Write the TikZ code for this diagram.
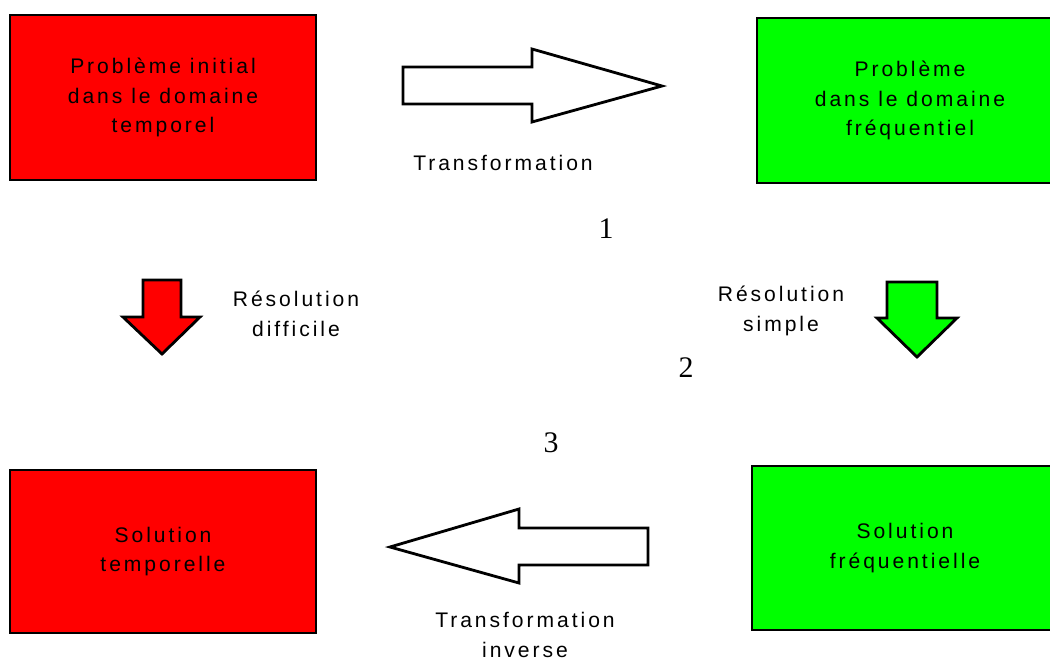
\documentclass[tikz,border=0pt]{standalone}
\usepackage{fontspec}
\setmainfont{Liberation Sans}
\newfontfamily\spacedfont[LetterSpace=14]{Liberation Sans}
\newfontfamily\numfont{Liberation Serif}
\definecolor{tempred}{RGB}{255,0,0}
\definecolor{freqgreen}{RGB}{0,255,0}

\begin{document}
\begin{tikzpicture}[
    x=0.2mm, y=-0.2mm,
    box/.style={
      rectangle, draw=black, line width=1.6pt,
      minimum width=61.2mm, minimum height=33mm,
      font=\spacedfont\fontsize{12}{17}\selectfont, align=center
    },
    tempbox/.style={box, fill=tempred},
    freqbox/.style={box, fill=freqgreen},
    bigarr/.style={draw=black, line width=1.6pt, line join=miter},
    lbl/.style={font=\spacedfont\fontsize{12}{17}\selectfont, align=center, inner sep=0.5pt},
    num/.style={font=\numfont\fontsize{17}{20}\selectfont}
  ]

    \useasboundingbox (0,0) rectangle (1050,660);

    % Row 1 — problem
    \node[tempbox] (pbtemp) at (163,97.5)  {Problème initial\\dans le domaine\\temporel};
    \node[freqbox] (pbfreq) at (910,100.5) {Problème\\dans le domaine\\fréquentiel};

    % Row 2 — solution
    \node[tempbox, minimum height=32.6mm] (soltemp) at (163,551.5) {Solution\\temporelle};
    \node[freqbox, minimum height=32.8mm] (solfreq) at (905,548)   {Solution\\fréquentielle};

    % Block arrows
    \draw[bigarr, fill=white] (403,67) -- (532,67) -- (532,49) -- (662,86)
      -- (532,122) -- (532,104) -- (403,104) -- cycle;
    \draw[bigarr, fill=white] (648,528) -- (519,528) -- (519,509) -- (390,547)
      -- (519,583) -- (519,565) -- (648,565) -- cycle;
    \draw[bigarr, fill=tempred] (143,280) -- (181,280) -- (181,317) -- (200,317)
      -- (162,354) -- (123,317) -- (143,317) -- cycle;
    \draw[bigarr, fill=freqgreen] (887,282) -- (937,282) -- (937,318) -- (957,318)
      -- (917,357) -- (877,318) -- (887,318) -- cycle;

    % Labels
    \node[lbl] (ltrans) at (503,163) {Transformation};
    \node[lbl] (ldiff)  at (296,314) {Résolution\\difficile};
    \node[lbl] (lsimp)  at (781,311) {Résolution\\simple};
    \node[lbl] (linv)   at (525,635) {Transformation\\inverse};

    % Step numbers
    \node[num] (n1) at (606,229) {1};
    \node[num] (n2) at (686,368) {2};
    \node[num] (n3) at (551,443) {3};

  \end{tikzpicture}
\end{document}
